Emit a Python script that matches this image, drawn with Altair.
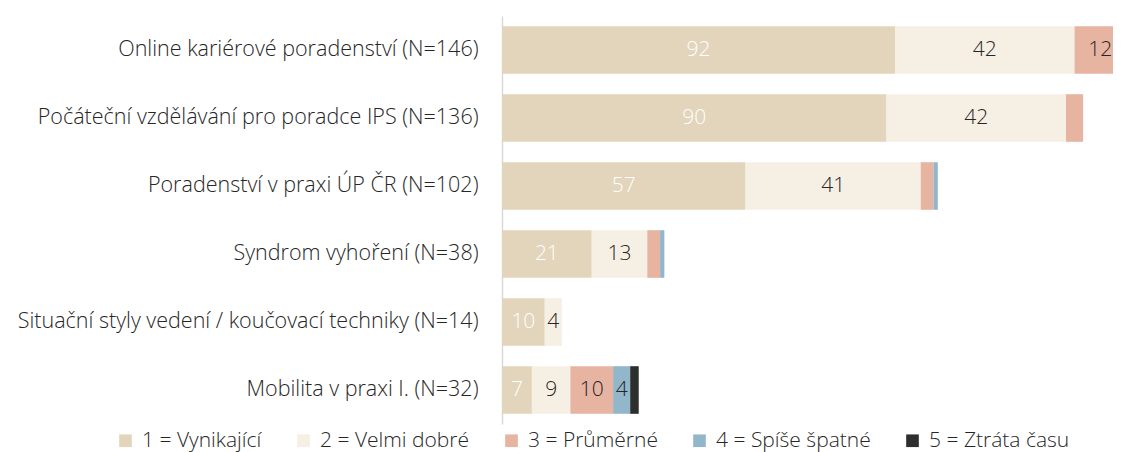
import altair as alt
import pandas as pd

categories = [
    "Online kariérové poradenství (N=146)",
    "Počáteční vzdělávání pro poradce IPS (N=136)",
    "Poradenství v praxi ÚP ČR (N=102)",
    "Syndrom vyhoření (N=38)",
    "Situační styly vedení / koučovací techniky (N=14)",
    "Mobilita v praxi I. (N=32)",
]
ratings = ["1 = Vynikající", "2 = Velmi dobré", "3 = Průměrné", "4 = Spíše špatné", "5 = Ztráta času"]
r1 = [92, 90, 57, 21, 10, 7]
r2 = [42, 42, 41, 13, 4, 9]
r3 = [12, 4, 3, 3, 0, 10]
r4 = [0, 0, 1, 1, 0, 4]
r5 = [0, 0, 0, 0, 0, 2]
# (category index, rating index) of segments whose value label is not shown
hidden_labels = [(1, 2), (2, 2), (2, 3), (3, 2), (3, 3), (5, 4)]
colors = ["#E2D5BB", "#F6F0E4", "#E6B4A1", "#92B7CB", "#2D2F2E"]

series = [r1, r2, r3, r4, r5]
rows = []
for ci, cat in enumerate(categories):
    for ri, rat in enumerate(ratings):
        v = series[ri][ci]
        if v == 0:
            continue
        rows.append({
            "cat": cat,
            "rating": rat,
            "order": ri,
            "value": v,
            "label": "" if (ci, ri) in hidden_labels else str(v),
        })
df = pd.DataFrame(rows)

FONT = "Open Sans"
xscale = alt.Scale(domain=[0, 143], nice=False, zero=True)
yscale = alt.Scale(domain=categories, paddingInner=0.3, paddingOuter=0.15)

base = alt.Chart(df).transform_stack(
    stack="value", groupby=["cat"], as_=["x0", "x1"],
    sort=[alt.SortField("order", order="ascending")]
).transform_calculate(mid="(datum.x0 + datum.x1) / 2")

bars = base.mark_bar(clip=True).encode(
    y=alt.Y("cat:N", scale=yscale, sort=categories,
            axis=alt.Axis(title=None, ticks=False, labelFontSize=21.5, labelFont=FONT,
                          labelFontWeight=300, labelColor="#262626", labelPadding=24,
                          labelLimit=700, domainColor="#D9D9D9", domainWidth=1.5)),
    x=alt.X("x0:Q", scale=xscale, axis=None),
    x2="x1:Q",
    color=alt.Color("rating:N", scale=alt.Scale(domain=ratings, range=colors),
                    legend=alt.Legend(orient="none", legendX=-387, legendY=414,
                                      direction="horizontal", columns=5, title=None,
                                      symbolType="square", symbolSize=160,
                                      symbolStrokeWidth=0, labelFontSize=21,
                                      labelFont=FONT, labelFontWeight=300,
                                      labelColor="#262626", labelLimit=400,
                                      columnPadding=31, labelOffset=6)),
)

texts = base.mark_text(fontSize=21, font=FONT, fontWeight=300).encode(
    y=alt.Y("cat:N", scale=yscale, sort=categories),
    x=alt.X("mid:Q", scale=xscale),
    text="label:N",
    color=alt.condition(alt.datum.order == 0, alt.value("white"), alt.value("#262626")),
)

chart = (bars + texts).properties(
    width=611, height=408,
    autosize=alt.AutoSizeParams(type="none"),
    padding={"left": 494, "top": 8, "right": 0, "bottom": 40},
).configure_view(stroke=None)

chart.save("out.html", embed_options={"renderer": "svg", "actions": False})
